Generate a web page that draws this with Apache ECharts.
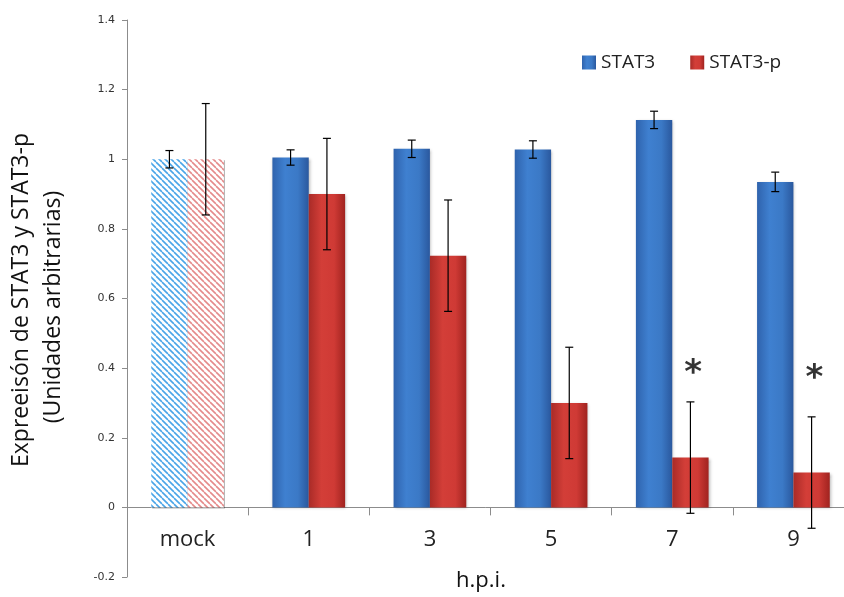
<!DOCTYPE html>
<html><head><meta charset="utf-8">
<script src="https://cdn.jsdelivr.net/npm/echarts@6/dist/echarts.min.js"></script>
<style>html,body{margin:0;padding:0;background:#fff}#c{width:844px;height:597px}</style>
</head><body><div id="c"></div>
<script>
const categories = ['mock', '1', '3', '5', '7', '9'];
const stat3 = [1.0, 1.005, 1.03, 1.028, 1.113, 0.935];
const stat3Err = [0.025, 0.022, 0.025, 0.025, 0.025, 0.028];
const stat3p = [1.0, 0.90, 0.723, 0.30, 0.143, 0.10];
const stat3pErr = [0.16, 0.16, 0.16, 0.16, 0.16, 0.16];
const sigMarks = ['', '', '', '', '*', '*'];
const sigY = [null, null, null, null, 0.40, 0.385];
const yTicks = [-0.2, 0, 0.2, 0.4, 0.6, 0.8, 1, 1.2, 1.4];

function stripes(bg, fg) {
  const c = document.createElement('canvas');
  c.width = 6; c.height = 6;
  const g = c.getContext('2d');
  g.fillStyle = bg; g.fillRect(0, 0, 6, 6);
  g.strokeStyle = fg; g.lineWidth = 1.6;
  for (let k = -6; k <= 12; k += 6) {
    g.beginPath(); g.moveTo(k, 0); g.lineTo(k + 6, 6); g.stroke();
  }
  return c;
}
const blueGrad = {type:'linear',x:0,y:0,x2:1,y2:0,colorStops:[
  {offset:0,color:'#2f63ad'},{offset:0.35,color:'#3f80d0'},{offset:0.7,color:'#3b79c6'},{offset:1,color:'#2a589e'}]};
const redGrad = {type:'linear',x:0,y:0,x2:1,y2:0,colorStops:[
  {offset:0,color:'#a92b27'},{offset:0.35,color:'#d33e38'},{offset:0.7,color:'#cf3a35'},{offset:1,color:'#a0231f'}]};

function barData(vals, pattern) {
  return vals.map((v, i) => i === 0
    ? {value: v, itemStyle: {color: {image: pattern, repeat: 'repeat'}, shadowBlur: 0}}
    : v);
}
function errRender(sign, vals, errs) {
  return function (params, api) {
    const i = api.value(0);
    const bw = api.size([1, 0])[0];
    const x = api.coord([i, vals[i]])[0] + sign * bw * 0.15;
    const top = api.coord([i, vals[i] + errs[i]])[1];
    const bot = api.coord([i, vals[i] - errs[i]])[1];
    const h = 4;
    const st = {stroke: '#000', lineWidth: 1.2};
    return {type: 'group', children: [
      {type: 'line', shape: {x1: x, y1: top, x2: x, y2: bot}, style: st},
      {type: 'line', shape: {x1: x - h, y1: top, x2: x + h, y2: top}, style: st},
      {type: 'line', shape: {x1: x - h, y1: bot, x2: x + h, y2: bot}, style: st}
    ]};
  };
}

const chart = echarts.init(document.getElementById('c'));
chart.setOption({
  animation: false,
  textStyle: {fontFamily: 'DejaVu Sans'},
  grid: {left: 127, right: -10, top: 20, bottom: 20, containLabel: false, outerBoundsMode: 'none'},
  legend: {
    data: ['STAT3', 'STAT3-p'], left: 577, top: 48, itemWidth: 14, itemHeight: 14, itemGap: 35,
    icon: 'rect',
    textStyle: {fontFamily: 'Open Sans', fontSize: 19, color: '#222', padding: [0,0,0,0]}
  },
  xAxis: {
    type: 'category', data: categories,
    axisLine: {onZero: true, lineStyle: {color: '#8c8c8c', width: 1}},
    axisTick: {show: true, length: 8, inside: false, alignWithLabel: false, lineStyle: {color: '#8c8c8c'}},
    axisLabel: {fontFamily: 'Open Sans', fontSize: 22, color: '#222', margin: -48}
  },
  yAxis: {
    type: 'value', min: -0.2, max: 1.4, interval: 0.2,
    splitLine: {show: false},
    axisLine: {show: true, lineStyle: {color: '#8c8c8c'}},
    axisTick: {show: true, length: 5, lineStyle: {color: '#8c8c8c'}},
    axisLabel: {fontSize: 11, color: '#333', margin: 12,
      formatter: v => String(Math.round(v * 10) / 10)}
  },
  graphic: [
    {type: 'text', x: 21, y: 300, rotation: Math.PI / 2,
      style: {text: 'Expreeisón de STAT3 y STAT3-p', font: '23px "Open Sans"', fill: '#111', align: 'center', verticalAlign: 'middle'}},
    {type: 'text', x: 53, y: 307, rotation: Math.PI / 2,
      style: {text: '(Unidades arbitrarias)', font: '23px "Open Sans"', fill: '#111', align: 'center', verticalAlign: 'middle'}},
    {type: 'text', x: 481, y: 581,
      style: {text: 'h.p.i.', font: '22px "Open Sans"', fill: '#111', align: 'center', verticalAlign: 'middle'}}
  ],
  series: [
    {name: 'STAT3', type: 'bar', barWidth: '30%', barGap: '0%',
      itemStyle: {color: blueGrad, shadowBlur: 3, shadowColor: 'rgba(0,0,0,0.3)', shadowOffsetX: 1, shadowOffsetY: 1},
      data: barData(stat3, stripes('#ffffff', '#4aa5e8'))},
    {name: 'STAT3-p', type: 'bar', barWidth: '30%', barGap: '0%',
      itemStyle: {color: redGrad, shadowBlur: 3, shadowColor: 'rgba(0,0,0,0.3)', shadowOffsetX: 1, shadowOffsetY: 1},
      data: barData(stat3p, stripes('#ffffff', '#e58a8a'))},
    {type: 'custom', renderItem: errRender(-1, stat3, stat3Err), z: 10,
      data: categories.map((c, i) => [i, stat3[i]])},
    {type: 'custom', renderItem: errRender(1, stat3p, stat3pErr), z: 10,
      data: categories.map((c, i) => [i, stat3p[i]])},
    {type: 'scatter', symbolSize: 1, itemStyle: {color: 'rgba(0,0,0,0)'}, z: 11,
      data: sigY.map((v, i) => v === null ? null : [i, v]),
      label: {show: true, position: 'inside', offset: [21, 6],
        formatter: p => sigMarks[p.dataIndex], fontSize: 34, fontWeight: 'bold', color: '#000', fontFamily: 'DejaVu Sans'}}
  ]
});
</script></body></html>
